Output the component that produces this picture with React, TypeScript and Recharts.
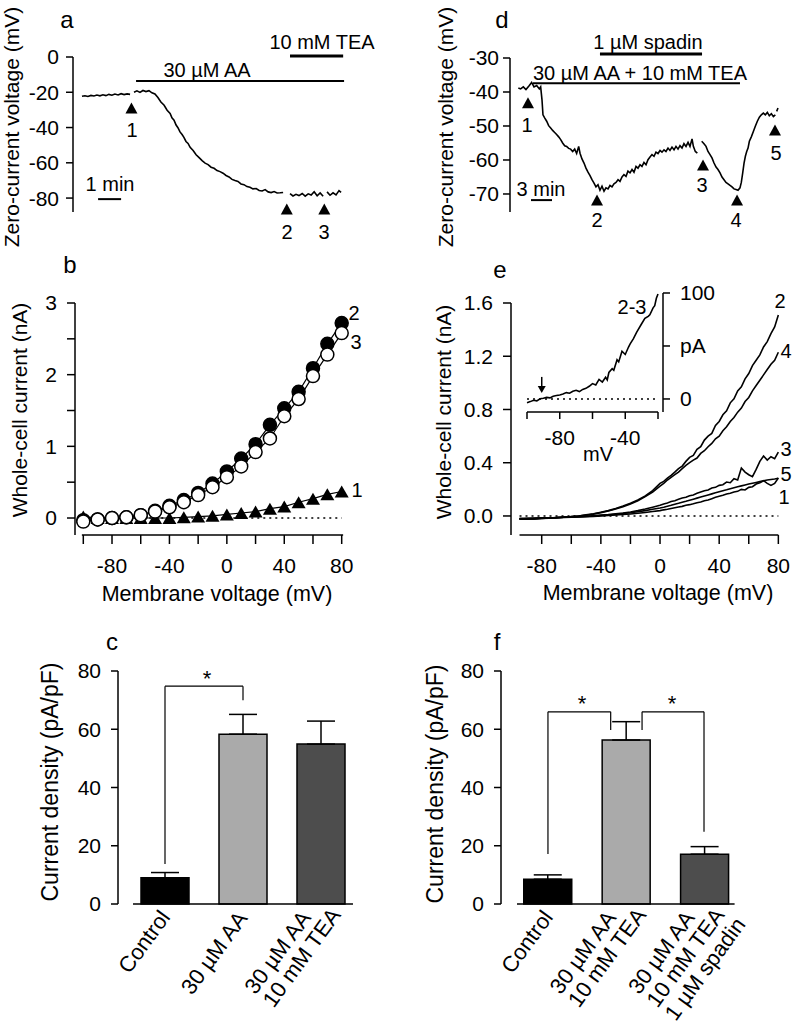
import React from 'react';
import {
  ComposedChart,
  BarChart,
  Bar,
  Line,
  Scatter,
  XAxis,
  YAxis,
  ReferenceLine,
  ReferenceDot,
  ErrorBar,
  Cell,
} from 'recharts';

const FONT = '"Liberation Sans", Arial, Helvetica, sans-serif';
const INK = '#000';

// a: zero-current voltage, time in min, voltage in mV (null = gap in trace)
const traceA: [number, number | null][] = [
  [0, -22.3], [0.13, -22.0], [0.26, -22.4], [0.39, -21.8], [0.52, -22.1], [0.65, -21.6], [0.78, -22.0],
  [0.91, -21.4], [1.04, -21.9], [1.17, -21.2], [1.3, -21.7], [1.43, -21.0], [1.57, -21.5], [1.7, -20.8],
  [1.83, -21.3], [1.96, -20.9], [2.09, -21.2], [2.17, null], [2.26, -20.0], [2.39, -19.2], [2.52, -20.1],
  [2.65, -19.0], [2.78, -19.6], [2.91, -19.1], [3.04, -20.3], [3.17, -21.0], [3.3, -23.0], [3.43, -25.5],
  [3.57, -27.4], [3.7, -30.2], [3.83, -32.0], [3.91, -34.5], [4.0, -35.8], [4.09, -38.6], [4.17, -40.1],
  [4.26, -42.5], [4.35, -44.0], [4.43, -45.6], [4.52, -47.9], [4.61, -49.0], [4.7, -51.2], [4.83, -53.0],
  [4.96, -55.4], [5.09, -57.1], [5.22, -58.8], [5.35, -60.2], [5.48, -61.0], [5.61, -62.5], [5.74, -63.1],
  [5.87, -64.4], [6.0, -65.0], [6.13, -65.9], [6.26, -67.2], [6.39, -68.0], [6.52, -69.4], [6.65, -70.1],
  [6.78, -70.6], [6.91, -72.0], [7.04, -72.4], [7.17, -73.5], [7.3, -73.9], [7.43, -74.8], [7.57, -74.6],
  [7.7, -75.7], [7.83, -76.0], [7.96, -75.2], [8.09, -76.5], [8.22, -76.9], [8.35, -76.3], [8.48, -77.1],
  [8.61, -77.0], [8.74, -76.8], [8.9, null], [9.04, -77.5], [9.17, -78.8], [9.3, -77.9], [9.43, -78.6],
  [9.57, -77.4], [9.7, -78.9], [9.83, -77.6], [9.96, -78.3], [10.09, -76.4], [10.22, -78.7], [10.35, -77.1],
  [10.48, -79.0], [10.56, null], [10.65, -76.5], [10.78, -78.4], [10.91, -77.0], [11.04, -78.2],
  [11.17, -75.8], [11.26, -76.8],
];
const marksA: [number, number][] = [[2.15, -28.9], [8.9, -86.2], [10.53, -86.2]];

// d: zero-current voltage with spadin, time in min, voltage in mV
const traceD: [number, number | null][] = [
  [0.05, -38.8], [0.38, -39.1], [0.76, -38.5], [1.14, -39.3], [1.62, -38.1], [1.95, -37.2], [2.29, -38.5],
  [2.67, -38.1], [3.05, -39.1], [3.24, -38.5], [3.43, -42.3], [3.57, -46.7], [3.81, -47.6], [4.1, -48.6],
  [4.38, -49.9], [4.67, -50.6], [4.95, -51.3], [5.24, -51.9], [5.52, -52.5], [5.81, -53.2], [6.1, -54.0],
  [6.38, -55.0], [6.67, -55.8], [6.95, -56.0], [7.24, -56.6], [7.52, -56.8], [7.81, -57.5], [8.1, -56.8],
  [8.38, -58.1], [8.67, -56.0], [8.86, -58.0], [9.14, -59.7], [9.43, -60.9], [9.71, -62.4], [10.0, -63.6],
  [10.29, -64.6], [10.57, -65.8], [10.86, -66.8], [11.14, -67.9], [11.43, -67.3], [11.71, -68.9],
  [12.0, -67.7], [12.29, -69.2], [12.57, -68.2], [12.86, -68.5], [13.14, -67.5], [13.43, -67.9],
  [13.71, -67.0], [14.0, -66.6], [14.29, -65.8], [14.57, -66.3], [14.86, -65.0], [15.14, -64.3],
  [15.43, -64.8], [15.71, -63.3], [16.0, -63.8], [16.29, -62.8], [16.57, -63.6], [16.86, -61.9],
  [17.14, -62.4], [17.43, -61.4], [17.71, -61.9], [18.0, -60.7], [18.29, -61.4], [18.57, -59.9],
  [18.86, -59.1], [19.14, -58.4], [19.43, -58.9], [19.71, -57.7], [20.0, -58.1], [20.29, -57.2],
  [20.57, -57.7], [20.86, -57.0], [21.14, -57.5], [21.43, -56.5], [21.71, -57.2], [22.0, -56.2],
  [22.29, -57.0], [22.57, -56.0], [22.86, -56.8], [23.14, -55.8], [23.43, -56.5], [23.71, -55.2],
  [24.0, -56.0], [24.29, -54.8], [24.57, -56.0], [24.86, -53.8], [25.05, -56.0], [25.33, -57.5],
  [25.62, -58.0], [25.9, null], [26.24, -54.5], [26.57, -55.2], [26.86, -56.0], [27.14, -57.5],
  [27.43, -58.4], [27.71, -59.4], [28.0, -60.9], [28.29, -62.1], [28.57, -62.8], [28.86, -63.8],
  [29.14, -65.0], [29.43, -65.8], [29.71, -66.6], [30.0, -67.0], [30.29, -67.5], [30.57, -67.9],
  [30.86, -68.5], [31.14, -68.7], [31.43, -68.9], [31.71, -68.2], [31.9, -66.6], [32.1, -63.8],
  [32.29, -60.9], [32.48, -58.9], [32.67, -57.5], [32.86, -56.5], [33.05, -54.5], [33.33, -53.2],
  [33.62, -51.6], [33.9, -50.1], [34.19, -48.6], [34.48, -47.4], [34.76, -46.7], [35.05, -46.2],
  [35.33, -46.7], [35.62, -46.0], [35.9, -47.0], [36.19, -46.4], [36.48, -47.2], [36.76, -46.7],
  [36.85, null], [36.95, -45.7], [37.14, -44.7],
];
const marksD: [number, number][] = [[1.43, -43.2], [11.29, -71.8], [26.43, -61.5], [31.29, -71.8], [36.71, -51.2]];

// b: I-V relations at time points 1, 2, 3 (mV, nA)
const voltsB = [-100, -90, -80, -70, -60, -50, -40, -30, -20, -10, 0, 10, 20, 30, 40, 50, 60, 70, 80];
const ivB1 = [0.02, 0.0, 0.0, 0.0, 0.0, 0.0, 0.0, 0.01, 0.02, 0.03, 0.05, 0.07, 0.09, 0.13, 0.16, 0.22, 0.27, 0.33, 0.37];
const ivB2 = [-0.03, -0.02, 0.0, 0.01, 0.04, 0.1, 0.17, 0.25, 0.35, 0.48, 0.65, 0.83, 1.03, 1.3, 1.53, 1.76, 2.09, 2.43, 2.72];
const ivB3 = [-0.05, -0.02, 0.0, 0.01, 0.04, 0.09, 0.15, 0.22, 0.32, 0.43, 0.57, 0.72, 0.92, 1.11, 1.42, 1.66, 1.98, 2.28, 2.58];

// e: ramp currents at time points 1-5 (mV, nA)
const voltsE = [
  -95, -90, -85, -80, -75, -70, -65, -60, -55, -50, -45, -40, -35, -30, -25, -20, -15, -10, -5,
  0, 2.5, 5, 7.5, 10, 12.5, 15, 17.5, 20, 22.5, 25, 27.5, 30, 32.5, 35, 37.5, 40, 42.5, 45, 47.5, 50,
  52.5, 55, 57.5, 60, 62.5, 65, 67.5, 70, 72.5, 75, 77.5, 80,
];
const rampE2 = [
  -0.025, -0.02, -0.022, -0.016, -0.017, -0.012, -0.01, -0.004, 0.0, 0.008, 0.016, 0.028, 0.04, 0.056, 0.074, 0.095, 0.12, 0.15, 0.19,
  0.245, 0.26, 0.285, 0.305, 0.33, 0.355, 0.375, 0.41, 0.44, 0.455, 0.5, 0.52, 0.57, 0.6, 0.62, 0.68, 0.71, 0.76, 0.79, 0.85, 0.88,
  0.94, 0.97, 1.03, 1.07, 1.13, 1.17, 1.21, 1.27, 1.31, 1.37, 1.42, 1.51,
];
const rampE4 = [
  -0.02, -0.022, -0.018, -0.018, -0.014, -0.012, -0.008, -0.005, 0.0, 0.006, 0.014, 0.025, 0.038, 0.053, 0.07, 0.09, 0.115, 0.145, 0.18,
  0.225, 0.245, 0.27, 0.29, 0.31, 0.33, 0.355, 0.38, 0.4, 0.42, 0.435, 0.47, 0.49, 0.52, 0.545, 0.58, 0.6, 0.64, 0.67, 0.71, 0.74,
  0.78, 0.81, 0.86, 0.89, 0.94, 0.98, 1.02, 1.06, 1.1, 1.14, 1.17, 1.23,
];
const rampE3 = [
  -0.022, -0.02, -0.02, -0.015, -0.016, -0.012, -0.01, -0.008, -0.005, -0.002, 0.002, 0.006, 0.01, 0.016, 0.022, 0.03, 0.04, 0.052, 0.066,
  0.08, 0.09, 0.098, 0.108, 0.115, 0.125, 0.135, 0.14, 0.152, 0.158, 0.17, 0.18, 0.19, 0.195, 0.21, 0.215, 0.23, 0.235, 0.255, 0.25, 0.28,
  0.27, 0.36, 0.33, 0.31, 0.295, 0.35, 0.41, 0.45, 0.42, 0.445, 0.43, 0.48,
];
const rampE5 = [
  -0.02, -0.02, -0.018, -0.016, -0.014, -0.013, -0.01, -0.009, -0.006, -0.004, 0.0, 0.003, 0.007, 0.012, 0.018, 0.024, 0.032, 0.04, 0.05,
  0.06, 0.066, 0.073, 0.08, 0.088, 0.095, 0.103, 0.11, 0.118, 0.126, 0.134, 0.142, 0.15, 0.158, 0.166, 0.174, 0.182, 0.19, 0.197, 0.205, 0.212,
  0.219, 0.226, 0.233, 0.24, 0.246, 0.252, 0.258, 0.264, 0.27, 0.274, 0.278, 0.283,
];
const rampE1 = [
  -0.022, -0.02, -0.02, -0.018, -0.016, -0.015, -0.012, -0.01, -0.008, -0.006, -0.003, 0.0, 0.003, 0.007, 0.011, 0.015, 0.02, 0.026, 0.033,
  0.04, 0.046, 0.05, 0.056, 0.062, 0.068, 0.072, 0.08, 0.085, 0.092, 0.1, 0.105, 0.115, 0.12, 0.13, 0.14, 0.148, 0.155, 0.165, 0.17, 0.18,
  0.185, 0.2, 0.195, 0.215, 0.22, 0.24, 0.25, 0.265, 0.245, 0.23, 0.245, 0.285,
];

// e inset: difference current 2-3 (mV, pA)
const insetE: [number, number][] = [
  [-100, -3.5], [-98, -2.5], [-96, -1.2], [-94, -1.8], [-92, 0.2], [-90, 0.6], [-88, 1.5], [-86, 1.0], [-84, 2.6],
  [-82, 3.2], [-80, 3.8], [-78, 4.6], [-76, 6.0], [-74, 5.4], [-72, 7.2], [-70, 8.2], [-68, 7.0], [-66, 9.0],
  [-64, 10.0], [-62, 12.0], [-60, 14.5], [-58, 13.2], [-56, 18.5], [-54, 16.0], [-52, 20.5], [-51, 18.0],
  [-50, 25.0], [-48, 28.5], [-47, 27.0], [-45, 37.0], [-44, 35.0], [-42, 45.0], [-40, 42.0], [-38, 49.0],
  [-37, 52.0], [-35, 57.0], [-33, 63.0], [-30, 71.0], [-28, 76.0], [-26, 78.0], [-25, 79.5], [-23, 86.0],
  [-22, 88.0], [-21, 95.0], [-20, 99.0],
];

// c, f: mean current density (pA/pF) with SEM
const catsC = ['Control', '30 µM AA', '30 µM AA + 10 mM TEA'];
const labelsC = [['Control'], ['30 µM AA'], ['30 µM AA', '10 mM TEA']];
const meansC = [9.0, 58.3, 54.9];
const semC = [1.8, 6.8, 7.9];
const catsF = ['Control', '30 µM AA + 10 mM TEA', '30 µM AA + 10 mM TEA + 1 µM spadin'];
const labelsF = [['Control'], ['30 µM AA', '10 mM TEA'], ['30 µM AA', '10 mM TEA', '1 µM spadin']];
const meansF = [8.5, 56.3, 17.1];
const semF = [1.5, 6.3, 2.6];
const fills = ['#000000', '#aaaaaa', '#4d4d4d'];

const rowsA = traceA.map(([t, v]) => ({ t, v }));
const rowsMA = marksA.map(([t, v]) => ({ t, v }));
const rowsD = traceD.map(([t, v]) => ({ t, v }));
const rowsMD = marksD.map(([t, v]) => ({ t, v }));
const ivRows = (ys: number[]) => voltsB.map((v, k) => ({ v, i: ys[k] }));
const rampRows = (ys: number[]) => voltsE.map((v, k) => ({ v, i: ys[k] }));
const insetRows = insetE.map(([v, i]) => ({ v, i }));
const barRows = (cats: string[], means: number[], sem: number[]) =>
  cats.map((name, k) => ({ name, idx: k, value: means[k], err: [0, sem[k]] }));

const axisLine = { stroke: INK, strokeWidth: 1.5 };
const tickFont = { fill: INK, fontSize: 21, fontFamily: FONT };

const tri = (hw: number, h: number) => (p: any) => (
  <polygon
    points={`${p.cx},${p.cy - h / 2} ${p.cx - hw},${p.cy + h / 2} ${p.cx + hw},${p.cy + h / 2}`}
    fill={INK}
  />
);

let measureCtx: CanvasRenderingContext2D | null = null;
const textWidth = (s: string, size: number) => {
  if (!measureCtx) measureCtx = document.createElement('canvas').getContext('2d');
  if (!measureCtx) return s.length * size * 0.55;
  measureCtx.font = `${size}px "Liberation Sans"`;
  return measureCtx.measureText(s).width;
};

const LABEL_SIZE = 22;

const BarTick = (props: any) => {
  const { x, y, lines } = props;
  const multi = lines.length > 1;
  // end of the first line sits just under the bar, lines are left-aligned
  const ax = x + (multi ? -8.5 : 6);
  const ay = y + (multi ? 13 : 13.5);
  const w0 = textWidth(lines[0], LABEL_SIZE);
  return (
    <g transform={`translate(${ax},${ay}) rotate(-54)`}>
      {lines.map((l: string, k: number) => (
        <text key={k} x={-w0} y={k * 22.5} textAnchor="start" fontSize={LABEL_SIZE} fontFamily={FONT} fill={INK}>
          {l}
        </text>
      ))}
    </g>
  );
};

const Txt = ({ x, y, s = 20, r = 0, children }: { x: number; y: number; s?: number; r?: number; children: React.ReactNode }) => (
  <div
    style={{
      position: 'absolute',
      left: x,
      top: y,
      fontSize: s,
      lineHeight: 1,
      whiteSpace: 'nowrap',
      transform: `translate(-50%, -50%)${r ? ` rotate(${r}deg)` : ''}`,
    }}
  >
    {children}
  </div>
);

const Place = ({ left, top, children }: { left: number; top: number; children: React.ReactNode }) => (
  <div style={{ position: 'absolute', left, top }}>{children}</div>
);

const seg = (x1: number, y1: number, x2: number, y2: number, w = 1.5, extra: any = {}) => (
  <ReferenceLine
    segment={[{ x: x1, y: y1 }, { x: x2, y: y2 }]}
    stroke={INK}
    strokeWidth={w}
    ifOverflow="visible"
    {...extra}
  />
);

const fmtEvery40 = (v: number) => (v % 40 === 0 ? String(v) : '');

const BarPanel = ({ rows, labels, yWidth, right, pad, base, brackets }: any) => (
  <BarChart width={400} height={404} data={rows} margin={{ top: 51, right, bottom: 10, left: 0 }}>
    <XAxis
      xAxisId="cat"
      dataKey="name"
      type="category"
      padding={{ left: pad, right: 0 }}
      axisLine={false}
      tickLine={false}
      tickSize={0}
      tickMargin={0}
      height={110}
      interval={0}
      tick={(p: any) => <BarTick {...p} lines={labels[p.index]} />}
    />
    <XAxis xAxisId="pos" dataKey="idx" type="number" domain={[-0.5, 2.5]} padding={{ left: pad, right: 0 }} hide />
    <YAxis
      type="number"
      domain={[0, 80]}
      ticks={[0, 20, 40, 60, 80]}
      width={yWidth}
      axisLine={axisLine}
      tickLine={axisLine}
      tickSize={7}
      tickMargin={10}
      tick={tickFont}
    />
    <ReferenceLine
      xAxisId="pos"
      segment={[{ x: base[0], y: 0 }, { x: base[1], y: 0 }]}
      stroke={INK}
      strokeWidth={1.5}
      ifOverflow="visible"
    />
    {brackets.map((b: number[][], k: number) =>
      b.slice(1).map((pt: number[], j: number) => (
        <ReferenceLine
          key={`${k}-${j}`}
          xAxisId="pos"
          segment={[{ x: b[j][0], y: b[j][1] }, { x: pt[0], y: pt[1] }]}
          stroke={INK}
          strokeWidth={1.2}
          ifOverflow="visible"
        />
      ))
    )}
    <Bar xAxisId="cat" dataKey="value" barSize={48} stroke={INK} strokeWidth={1.5} isAnimationActive={false}>
      {rows.map((_: any, k: number) => (
        <Cell key={k} fill={fills[k]} />
      ))}
      <ErrorBar dataKey="err" width={14} stroke={INK} strokeWidth={1.5} />
    </Bar>
  </BarChart>
);

export default function App() {
  return (
    <div
      style={{
        position: 'absolute',
        left: 0,
        top: 0,
        width: 800,
        height: 1024,
        background: '#fff',
        fontFamily: FONT,
        color: INK,
        overflow: 'hidden',
      }}
    >
      {/* a */}
      <Place left={0} top={0}>
        <ComposedChart width={400} height={250} margin={{ top: 57, right: 55, bottom: 38, left: 0 }}>
          <XAxis type="number" dataKey="t" domain={[-0.39, 11.43]} hide />
          <YAxis
            type="number"
            dataKey="v"
            domain={[-87.9, 0]}
            ticks={[0, -20, -40, -60, -80]}
            width={73}
            axisLine={axisLine}
            tickLine={axisLine}
            tickSize={7}
            tickMargin={7}
            tick={tickFont}
          />
          {seg(2.35, -13.6, 11.39, -13.6, 2)}
          {seg(9.04, 0.57, 11.35, 0.57, 3)}
          {seg(0.7, -80.6, 1.7, -80.6, 2)}
          <Line data={rowsA} dataKey="v" stroke={INK} strokeWidth={1.6} dot={false} isAnimationActive={false} />
          <Scatter data={rowsMA} dataKey="v" shape={tri(6, 11)} isAnimationActive={false} />
        </ComposedChart>
      </Place>

      {/* d */}
      <Place left={400} top={0}>
        <ComposedChart width={400} height={250} margin={{ top: 58, right: 15, bottom: 38, left: 0 }}>
          <XAxis type="number" dataKey="t" domain={[-1.14, 38.14]} hide />
          <YAxis
            type="number"
            dataKey="v"
            domain={[-75.3, -30]}
            ticks={[-30, -40, -50, -60, -70]}
            width={110}
            axisLine={axisLine}
            tickLine={axisLine}
            tickSize={7}
            tickMargin={4}
            tick={tickFont}
          />
          {seg(11.71, -28.8, 26.29, -28.8, 3)}
          {seg(2.14, -37.4, 31.71, -37.4, 2)}
          {seg(1.86, -71.8, 4.86, -71.8, 2)}
          <Line data={rowsD} dataKey="v" stroke={INK} strokeWidth={1.6} dot={false} isAnimationActive={false} />
          <Scatter data={rowsMD} dataKey="v" shape={tri(6, 11)} isAnimationActive={false} />
        </ComposedChart>
      </Place>

      {/* b */}
      <Place left={0} top={280}>
        <ComposedChart width={400} height={300} margin={{ top: 23, right: 57.6, bottom: 5, left: 0 }}>
          <XAxis
            type="number"
            dataKey="v"
            domain={[-105.78, 80.49]}
            ticks={[-100, -80, -60, -40, -20, 0, 20, 40, 60, 80]}
            tickFormatter={fmtEvery40}
            axisLine={false}
            tickLine={axisLine}
            tickSize={9}
            tickMargin={14}
            height={40}
            tick={tickFont}
          />
          <YAxis
            type="number"
            domain={[-0.237, 3]}
            ticks={[0, 0.5, 1, 1.5, 2, 2.5, 3]}
            tickFormatter={(v: number) => (Number.isInteger(v) ? String(v) : '')}
            width={75}
            axisLine={axisLine}
            tickLine={axisLine}
            tickSize={8}
            tickMargin={10}
            tick={tickFont}
          />
          {seg(-101, -0.237, 81, -0.237, 1.5)}
          {seg(-100, 0, 80, 0, 1.5, { strokeDasharray: '2 4' })}
          <Line
            data={ivRows(ivB1)}
            dataKey="i"
            stroke={INK}
            strokeWidth={1.2}
            isAnimationActive={false}
            dot={(p: any) => <g key={`t${p.index}`}>{tri(7, 12)(p)}</g>}
          />
          <Line
            data={ivRows(ivB2)}
            dataKey="i"
            stroke={INK}
            strokeWidth={1.2}
            isAnimationActive={false}
            dot={(p: any) => <circle key={`f${p.index}`} cx={p.cx} cy={p.cy} r={6.5} fill={INK} stroke={INK} strokeWidth={1.5} />}
          />
          <Line
            data={ivRows(ivB3)}
            dataKey="i"
            stroke={INK}
            strokeWidth={1.2}
            isAnimationActive={false}
            dot={(p: any) => <circle key={`o${p.index}`} cx={p.cx} cy={p.cy} r={6.5} fill="#fff" stroke={INK} strokeWidth={1.5} />}
          />
        </ComposedChart>
      </Place>

      {/* e */}
      <Place left={400} top={280}>
        <ComposedChart width={400} height={300} margin={{ top: 23, right: 15, bottom: 5, left: 0 }}>
          <XAxis
            type="number"
            dataKey="v"
            domain={[-100.76, 84.5]}
            ticks={[-80, -60, -40, -20, 0, 20, 40, 60, 80]}
            tickFormatter={fmtEvery40}
            axisLine={false}
            tickLine={axisLine}
            tickSize={9}
            tickMargin={14}
            height={40}
            tick={tickFont}
          />
          <YAxis
            type="number"
            domain={[-0.143, 1.6]}
            ticks={[0, 0.4, 0.8, 1.2, 1.6]}
            tickFormatter={(v: number) => v.toFixed(1)}
            width={111}
            axisLine={axisLine}
            tickLine={axisLine}
            tickSize={8}
            tickMargin={10}
            tick={tickFont}
          />
          {seg(-95, -0.143, 80, -0.143, 1.5)}
          {seg(-95, 0, 80, 0, 1.5, { strokeDasharray: '2 4' })}
          {[rampE1, rampE5, rampE3, rampE4, rampE2].map((ys, k) => (
            <Line
              key={k}
              data={rampRows(ys)}
              dataKey="i"
              stroke={INK}
              strokeWidth={1.6}
              dot={false}
              isAnimationActive={false}
            />
          ))}
        </ComposedChart>
      </Place>

      {/* e inset */}
      <Place left={500} top={280}>
        <ComposedChart width={230} height={190} margin={{ top: 13, right: 0, bottom: 23, left: 27 }}>
          <XAxis
            type="number"
            dataKey="v"
            domain={[-100, -16.95]}
            ticks={[-100, -80, -60, -40, -20]}
            tickFormatter={(v: number) => (v === -80 || v === -40 ? String(v) : '')}
            axisLine={false}
            tickLine={axisLine}
            tickSize={7}
            tickMargin={11}
            height={35}
            tick={tickFont}
          />
          <YAxis
            type="number"
            orientation="right"
            domain={[-12.3, 100]}
            ticks={[0, 50, 100]}
            tickFormatter={(v: number) => (v === 50 ? 'pA' : String(v))}
            width={67}
            axisLine={axisLine}
            tickLine={axisLine}
            tickSize={7}
            tickMargin={10}
            tick={{ ...tickFont, textAnchor: 'start' }}
          />
          {seg(-100, -12.3, -20, -12.3, 1.5)}
          {seg(-100, 0, -20, 0, 1.5, { strokeDasharray: '2 4' })}
          <Line data={insetRows} dataKey="i" stroke={INK} strokeWidth={1.6} dot={false} isAnimationActive={false} />
          <ReferenceDot
            x={-91}
            y={5.7}
            ifOverflow="visible"
            shape={(p: any) => (
              <g>
                <line x1={p.cx} y1={p.cy - 16} x2={p.cx} y2={p.cy - 5} stroke={INK} strokeWidth={1.5} />
                <polygon points={`${p.cx - 4},${p.cy - 7} ${p.cx + 4},${p.cy - 7} ${p.cx},${p.cy}`} fill={INK} />
              </g>
            )}
          />
        </ComposedChart>
      </Place>

      {/* c */}
      <Place left={0} top={620}>
        <BarPanel
          rows={barRows(catsC, meansC, semC)}
          labels={labelsC}
          yWidth={118}
          right={40}
          pad={8}
          base={[-0.41, 2.41]}
          brackets={[[[0, 13.7], [0, 74.8], [1, 74.8], [1, 70.0]]]}
        />
      </Place>

      {/* f */}
      <Place left={400} top={620}>
        <BarPanel
          rows={barRows(catsF, meansF, semF)}
          labels={labelsF}
          yWidth={101}
          right={56}
          pad={7.75}
          base={[-0.395, 2.38]}
          brackets={[
            [[0, 17.2], [0, 66.0], [0.8, 66.0], [0.8, 59.7]],
            [[1.2, 59.7], [1.2, 66.0], [1.99, 66.0], [1.99, 24.8]],
          ]}
        />
      </Place>

      {/* text */}
      <Txt x={67} y={20} s={24}>a</Txt>
      <Txt x={322} y={42}>10 mM TEA</Txt>
      <Txt x={207} y={70}>30 µM AA</Txt>
      <Txt x={132} y={130}>1</Txt>
      <Txt x={110} y={184}>1 min</Txt>
      <Txt x={287} y={232}>2</Txt>
      <Txt x={324} y={232}>3</Txt>
      <Txt x={11} y={127} s={21} r={-90}>Zero-current voltage (mV)</Txt>

      <Txt x={502} y={20} s={24}>d</Txt>
      <Txt x={648} y={42}>1 µM spadin</Txt>
      <Txt x={640} y={73}>30 µM AA + 10 mM TEA</Txt>
      <Txt x={527} y={125}>1</Txt>
      <Txt x={597} y={220}>2</Txt>
      <Txt x={702} y={185}>3</Txt>
      <Txt x={736} y={220}>4</Txt>
      <Txt x={776} y={153}>5</Txt>
      <Txt x={541} y={189}>3 min</Txt>
      <Txt x={445} y={127} s={21} r={-90}>Zero-current voltage (mV)</Txt>

      <Txt x={70} y={265} s={24}>b</Txt>
      <Txt x={354} y={313}>2</Txt>
      <Txt x={356} y={342}>3</Txt>
      <Txt x={357} y={490}>1</Txt>
      <Txt x={19} y={410} s={21} r={-90}>Whole-cell current (nA)</Txt>
      <Txt x={217} y={595} s={21.5}>Membrane voltage (mV)</Txt>

      <Txt x={500} y={270} s={24}>e</Txt>
      <Txt x={632} y={307}>2-3</Txt>
      <Txt x={598} y={454}>mV</Txt>
      <Txt x={780} y={301}>2</Txt>
      <Txt x={786} y={351}>4</Txt>
      <Txt x={786} y={449}>3</Txt>
      <Txt x={786} y={474}>5</Txt>
      <Txt x={784} y={497}>1</Txt>
      <Txt x={443} y={412} s={21} r={-90}>Whole-cell current (nA)</Txt>
      <Txt x={658} y={594} s={21.5}>Membrane voltage (mV)</Txt>

      <Txt x={112} y={642} s={24}>c</Txt>
      <Txt x={207} y={679} s={22}>*</Txt>
      <Txt x={50} y={782} s={23} r={-90}>Current density (pA/pF)</Txt>

      <Txt x={497} y={642} s={24}>f</Txt>
      <Txt x={582} y={704} s={22}>*</Txt>
      <Txt x={672} y={704} s={22}>*</Txt>
      <Txt x={435} y={784} s={23} r={-90}>Current density (pA/pF)</Txt>
    </div>
  );
}
